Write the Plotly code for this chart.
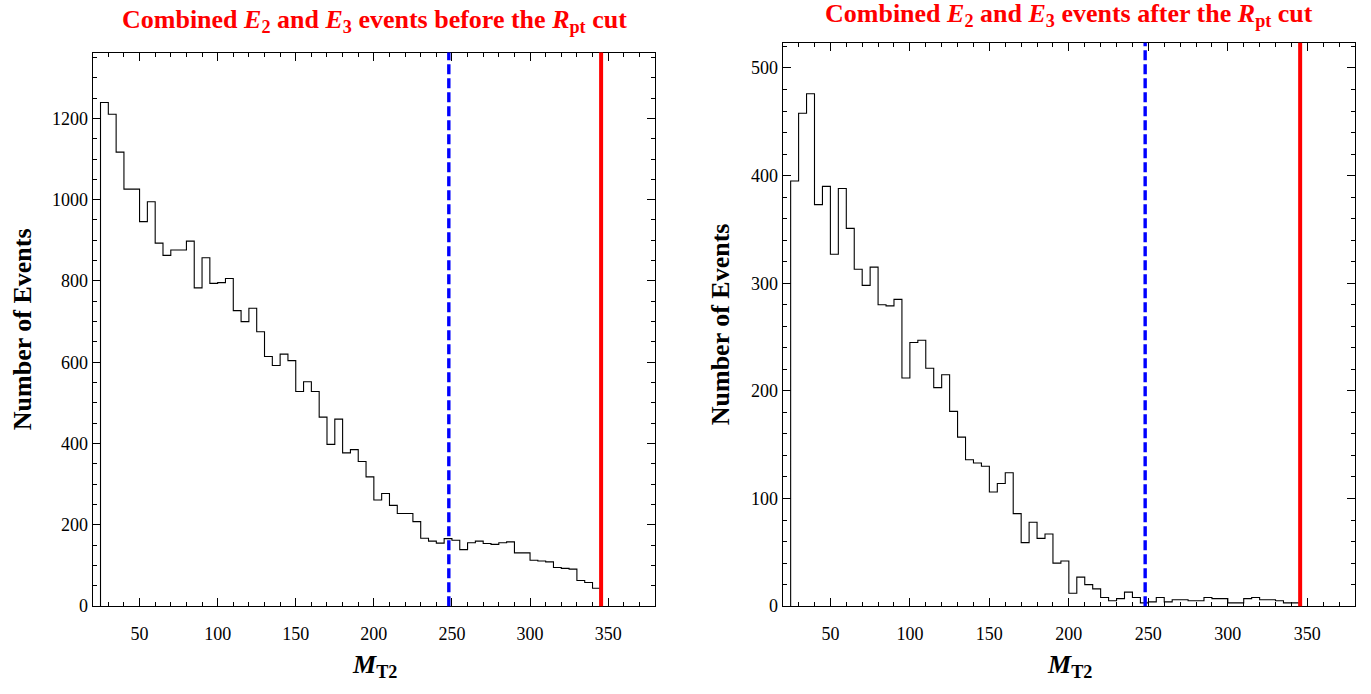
import numpy as np
import plotly.graph_objects as go

# ---------------- data ----------------
bin_start = 25
bin_width = 5

counts_before = [1239, 1210, 1117, 1026, 1026, 946, 995, 893, 863, 876,
                 876, 898, 783, 857, 794, 796, 806, 727, 700, 733,
                 675, 614, 592, 620, 604, 528, 552, 528, 465, 398,
                 460, 377, 385, 356, 318, 261, 277, 248, 228, 228,
                 208, 167, 160, 155, 166, 162, 139, 156, 160, 154,
                 152, 156, 158, 131, 131, 113, 111, 109, 95, 93,
                 91, 63, 58, 44]

counts_after = [395, 458, 476, 373, 390, 327, 388, 351, 313, 298,
                315, 280, 279, 285, 212, 245, 247, 221, 203, 215,
                181, 157, 136, 133, 130, 106, 114, 124, 86, 59,
                78, 63, 67, 40, 42, 12, 27, 20, 16, 8,
                5, 7, 13, 8, 3, 4, 8, 4, 6, 6,
                5, 5, 8, 7, 7, 3, 3, 7, 8, 6,
                6, 5, 3, 3]

cut_dashed = 248
cut_solid = 345.5

x_tick_vals = [50, 100, 150, 200, 250, 300, 350]
left_y_ticks = [0, 200, 400, 600, 800, 1000, 1200]
right_y_ticks = [0, 100, 200, 300, 400, 500]

title_left = "<b>Combined <i>E</i><sub>2</sub> and <i>E</i><sub>3</sub> events before the <i>R</i><sub>pt</sub> cut</b>"
title_right = "<b>Combined <i>E</i><sub>2</sub> and <i>E</i><sub>3</sub> events after the <i>R</i><sub>pt</sub> cut</b>"
y_title = "<b>Number of Events</b>"
x_title = "<b><i>M</i><sub>T2</sub></b>"

# ---------------- layout geometry ----------------
W, H = 1371, 694
FONT = "Liberation Serif, Times New Roman, serif"


def step_xy(counts):
    n = len(counts)
    edges = bin_start + bin_width * np.arange(n + 1)
    xs = [edges[0]] + list(edges) + [edges[-1]]
    ys = [0] + list(counts) + [counts[-1], 0]
    return xs, ys


fig = go.Figure()
for counts, xa, ya in [(counts_before, "x", "y"), (counts_after, "x2", "y2")]:
    xs, ys = step_xy(counts)
    fig.add_trace(go.Scatter(x=xs, y=ys, mode="lines", line=dict(color="black", width=1.1, shape="hv"),
                             xaxis=xa, yaxis=ya, showlegend=False, hoverinfo="skip"))

for xr, yr in [("x", "y"), ("x2", "y2")]:
    fig.add_shape(type="line", xref=xr, yref=yr + " domain", x0=cut_dashed, x1=cut_dashed, y0=0, y1=1,
                  line=dict(color="#0000FF", width=3.4, dash="10px,4px"))
    fig.add_shape(type="line", xref=xr, yref=yr + " domain", x0=cut_solid, x1=cut_solid, y0=0, y1=1,
                  line=dict(color="#FF0000", width=4))

ax_common = dict(showgrid=False, zeroline=False, showline=True, linecolor="black", linewidth=1,
                 mirror="ticks", ticks="inside", tickcolor="black", tickwidth=1,
                 tickfont=dict(family=FONT, size=18, color="black"))

fig.update_layout(
    width=W, height=H, margin=dict(l=0, r=0, t=0, b=0),
    plot_bgcolor="white", paper_bgcolor="white", showlegend=False,
    xaxis=dict(domain=[92.7 / W, 655 / W], range=[20, 380], tickvals=x_tick_vals, ticklen=8,
               ticklabelstandoff=11,
               minor=dict(dtick=10, tick0=0, ticklen=4, ticks="inside", tickcolor="black"),
               anchor="y", **ax_common),
    yaxis=dict(domain=[(H - 615) / H, (H - 53.3) / H], range=[0, 1362], tickvals=left_y_ticks, ticklen=8,
               minor=dict(dtick=50, tick0=0, ticklen=4, ticks="inside", tickcolor="black"),
               anchor="x", **ax_common),
    xaxis2=dict(domain=[782.7 / W, 1355 / W], range=[20, 380], tickvals=x_tick_vals, ticklen=8,
                ticklabelstandoff=11,
                minor=dict(dtick=10, tick0=0, ticklen=4, ticks="inside", tickcolor="black"),
                anchor="y2", **ax_common),
    yaxis2=dict(domain=[(H - 615) / H, (H - 43.3) / H], range=[0, 523.5], tickvals=right_y_ticks, ticklen=8,
                minor=dict(dtick=20, tick0=0, ticklen=4, ticks="inside", tickcolor="black"),
                anchor="x2", **ax_common),
)

ann = []
ann.append(dict(text=title_left, x=375 / W, y=1 - 21 / H, xref="paper", yref="paper", showarrow=False,
                xanchor="center", yanchor="middle", font=dict(family=FONT, size=26, color="#FF0000")))
ann.append(dict(text=title_right, x=1069 / W, y=1 - 15 / H, xref="paper", yref="paper", showarrow=False,
                xanchor="center", yanchor="middle", font=dict(family=FONT, size=26, color="#FF0000")))
for xc, yc in [(22, 334), (720, 329)]:
    ann.append(dict(text=y_title, x=xc / W, y=1 - yc / H, xref="paper", yref="paper", showarrow=False,
                    textangle=-90, xanchor="center", yanchor="middle",
                    font=dict(family=FONT, size=26, color="black")))
for xc in [374, 1069]:
    ann.append(dict(text=x_title, x=xc / W, y=0, xref="paper", yref="paper", showarrow=False,
                    xanchor="center", yanchor="bottom", font=dict(family=FONT, size=26, color="black")))
fig.update_layout(annotations=ann)

fig.write_html("out.html")
